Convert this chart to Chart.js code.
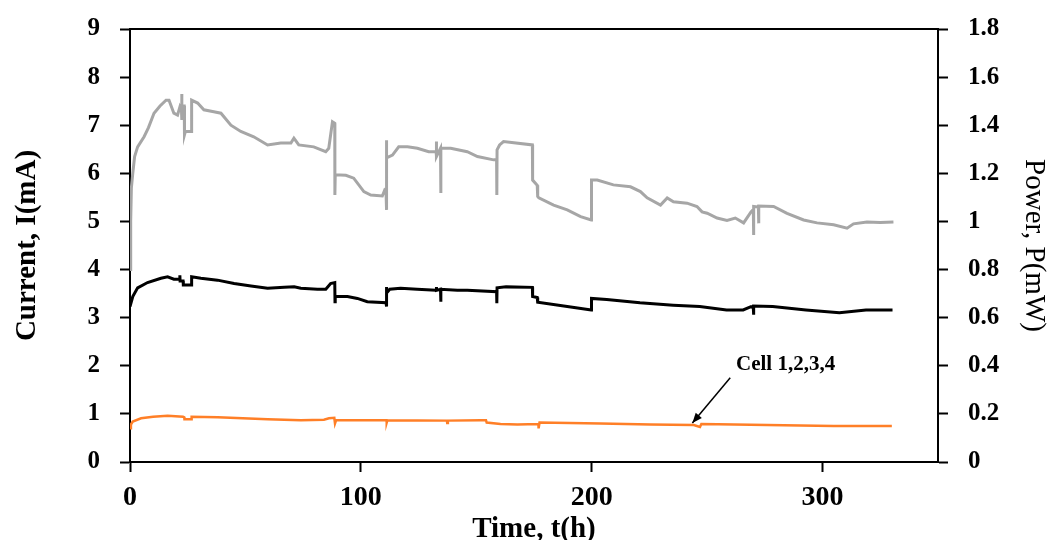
<!DOCTYPE html>
<html>
<head>
<meta charset="utf-8">
<script src="https://cdn.jsdelivr.net/npm/chart.js@4/dist/chart.umd.min.js"></script>
<style>
  html, body { margin: 0; padding: 0; background: #fff; }
  #wrap { width: 1052px; height: 540px; }
</style>
</head>
<body>
<div id="wrap"><canvas id="c" width="1052" height="540"></canvas></div>
<script>
// ---- data (time in hours, values on the left scale) ----
const grayTime = [0,0.3,0.6,1.2,2,3.3,6.1,8,10.4,13,15.6,16.9,19,20.6,21.6,22.3,22.4,22.5,23.0,23.5,23.6,24,26.6,26.7,29.3,32,36.3,39.4,43.7,48,53.6,59.6,65.3,69.7,71,73.1,79.6,84.8,86.1,87.7,88.7,88.75,88.9,93.5,96.9,101.3,104.3,109.3,110.3,110.9,111.0,111.1,111.3,113.7,116.4,120.2,124.5,129.4,132.6,132.7,132.8,134.5,134.6,134.7,138.9,146.1,150.5,157.5,158.8,158.9,159.0,160.1,161.8,174.3,174.4,176.4,176.6,177.1,183.5,189.4,195.2,199.8,199.9,202.4,209.4,216.8,221.1,224,229.8,232.7,235.4,241.3,245.6,247.8,250,254.3,258.6,262.2,265.8,269.0,270.0,270.1,270.2,272.2,272.3,272.4,278.8,284.6,291.8,297.6,304.8,310.6,313.4,319.2,325,330.7];
const grayValue = [4.0,5.0,5.7,6.0,6.35,6.55,6.76,6.95,7.25,7.4,7.52,7.52,7.25,7.21,7.38,7.3,7.65,7.11,7.40,7.40,6.8,6.87,6.87,7.52,7.46,7.32,7.28,7.25,7.0,6.87,6.76,6.59,6.63,6.63,6.73,6.59,6.55,6.45,6.52,7.07,7.04,5.55,5.97,5.96,5.9,5.62,5.55,5.53,5.65,5.62,6.69,5.24,6.32,6.38,6.55,6.55,6.52,6.45,6.45,6.66,6.35,6.52,5.59,6.52,6.52,6.45,6.35,6.28,6.28,5.55,6.49,6.59,6.66,6.59,5.86,5.75,5.52,5.49,5.34,5.24,5.10,5.03,5.86,5.86,5.76,5.72,5.62,5.49,5.34,5.49,5.41,5.38,5.31,5.20,5.17,5.07,5.02,5.07,4.97,5.20,5.25,4.72,5.31,5.30,4.96,5.32,5.31,5.17,5.03,4.97,4.93,4.86,4.95,4.99,4.98,4.99];

const blackTime = [0,1.2,3.3,7.6,13.4,16.3,19,21.5,21.6,21.7,23.0,23.1,26.6,26.7,30.7,37.9,45.1,52.4,59.6,66.8,71.1,74,81.2,84.8,86.9,88.7,88.8,88.9,94.2,98.5,102.8,110.9,111.0,111.1,111.3,112.5,117.2,124.4,132.6,132.7,132.8,134.5,134.6,134.7,141.8,146.1,158.8,158.9,159.0,162.9,174.3,174.4,176.4,176.6,189.4,199.8,199.9,206.5,220.9,235.3,246.8,258.4,265.6,269.0,270.0,270.1,270.2,278.4,292.8,307.3,318.8,330.3];
const blackValue = [3.23,3.44,3.62,3.73,3.82,3.85,3.80,3.80,3.88,3.76,3.76,3.68,3.68,3.85,3.82,3.78,3.71,3.66,3.61,3.63,3.64,3.61,3.59,3.59,3.71,3.73,3.33,3.44,3.44,3.40,3.33,3.31,3.64,3.23,3.51,3.59,3.61,3.59,3.57,3.64,3.57,3.59,3.33,3.59,3.57,3.57,3.54,3.30,3.62,3.64,3.63,3.44,3.42,3.32,3.23,3.16,3.40,3.38,3.31,3.26,3.23,3.16,3.16,3.23,3.20,3.06,3.24,3.23,3.16,3.10,3.16,3.16];

const orangeTime = [0,0.4,1.2,4.8,10,16.3,23,23.5,23.6,26.6,26.7,38,59.6,74,84,86.2,88.5,88.8,89.3,91.3,111.1,111.2,111.5,137.3,137.4,137.7,151.9,154.2,154.5,160.5,167.8,176.9,177.0,177.4,203.8,225.4,244.2,246.9,247.5,276,304.8,330];
const orangeValue = [0.70,0.78,0.84,0.91,0.94,0.96,0.94,0.93,0.89,0.89,0.94,0.93,0.89,0.87,0.88,0.91,0.92,0.80,0.87,0.87,0.87,0.82,0.87,0.86,0.81,0.86,0.87,0.87,0.82,0.79,0.78,0.79,0.70,0.82,0.80,0.78,0.77,0.73,0.79,0.77,0.75,0.75];

const xTicks = [0, 100, 200, 300];
const leftTicks = [0,1,2,3,4,5,6,7,8,9];
const rightTickLabels = ['0','0.2','0.4','0.6','0.8','1','1.2','1.4','1.6','1.8'];
const annotationText = 'Cell 1,2,3,4';

function pairs(t, v) { return t.map((x, i) => ({ x: x, y: v[i] })); }

const SERIF = "'Liberation Serif', 'Times New Roman', serif";

// annotation positions (data coordinates on x / left axis)
const arrowFrom = { x: 260, y: 1.75 };
const arrowTo = { x: 243.6, y: 0.81 };
const labelAt = { x: 262.5, y: 1.92 };

const framePlugin = {
  id: 'frame',
  afterDatasetsDraw(chart) {
    const { ctx, chartArea, scales } = chart;
    ctx.save();
    ctx.strokeStyle = '#000';
    ctx.lineWidth = 2;
    ctx.beginPath();
    ctx.moveTo(chartArea.left - 1, chartArea.top);
    ctx.lineTo(chartArea.right + 1, chartArea.top);
    ctx.stroke();
    const x1 = scales.x.getPixelForValue(arrowFrom.x), y1 = scales.y.getPixelForValue(arrowFrom.y);
    const x2 = scales.x.getPixelForValue(arrowTo.x), y2 = scales.y.getPixelForValue(arrowTo.y);
    ctx.lineWidth = 1.5;
    ctx.beginPath();
    ctx.moveTo(x1, y1);
    ctx.lineTo(x2, y2);
    ctx.stroke();
    const ang = Math.atan2(y2 - y1, x2 - x1);
    const L = 10, W = 4;
    ctx.fillStyle = '#000';
    ctx.beginPath();
    ctx.moveTo(x2, y2);
    ctx.lineTo(x2 - L * Math.cos(ang) + W * Math.sin(ang), y2 - L * Math.sin(ang) - W * Math.cos(ang));
    ctx.lineTo(x2 - L * Math.cos(ang) - W * Math.sin(ang), y2 - L * Math.sin(ang) + W * Math.cos(ang));
    ctx.closePath();
    ctx.fill();
    ctx.font = 'bold 21px ' + SERIF;
    ctx.textAlign = 'left';
    ctx.textBaseline = 'alphabetic';
    ctx.fillText(annotationText, scales.x.getPixelForValue(labelAt.x), scales.y.getPixelForValue(labelAt.y));
    ctx.restore();
  }
};

const axisCommon = {
  grid: { display: true, drawOnChartArea: false, drawTicks: true, tickLength: 10, tickWidth: 2, tickColor: '#000' },
  border: { display: true, color: '#000', width: 2 }
};

function fitVertical(width) {
  return (s) => { s.width = width; s.paddingTop = 0; s.paddingBottom = 0; };
}

new Chart(document.getElementById('c'), {
  type: 'line',
  data: {
    datasets: [
      { label: 'gray', data: pairs(grayTime, grayValue), borderColor: '#a6a6a6', borderWidth: 3, pointRadius: 0, tension: 0, yAxisID: 'y' },
      { label: 'black', data: pairs(blackTime, blackValue), borderColor: '#000000', borderWidth: 3, pointRadius: 0, tension: 0, yAxisID: 'y' },
      { label: 'orange', data: pairs(orangeTime, orangeValue), borderColor: '#ff7f27', borderWidth: 2.5, pointRadius: 0, tension: 0, yAxisID: 'y' }
    ]
  },
  options: {
    responsive: false,
    animation: false,
    events: [],
    layout: { padding: { top: 29, left: 0, right: 0, bottom: 0 } },
    plugins: { legend: { display: false }, tooltip: { enabled: false } },
    scales: {
      x: {
        type: 'linear', position: 'bottom', min: 0, max: 350,
        ...axisCommon,
        afterBuildTicks: (s) => { s.ticks = xTicks.map(v => ({ value: v })); },
        ticks: { color: '#000', padding: 9, maxRotation: 0, font: { family: SERIF, weight: 'bold', size: 28 } },
        title: { display: true, text: 'Time, t(h)', color: '#000', padding: 0, font: { family: SERIF, weight: 'bold', size: 29, lineHeight: 0.7 } },
        afterFit: (s) => { s.height = 78; s.paddingLeft = 0; s.paddingRight = 0; }
      },
      y: {
        type: 'linear', position: 'left', min: 0, max: 9,
        ...axisCommon,
        afterBuildTicks: (s) => { s.ticks = leftTicks.map(v => ({ value: v })); },
        ticks: { color: '#000', padding: 20, font: { family: SERIF, weight: 'bold', size: 25 } },
        title: { display: true, text: 'Current, I(mA)', color: '#000', padding: { top: 13, bottom: 0 }, font: { family: SERIF, weight: 'bold', size: 29, lineHeight: 1 } },
        afterFit: fitVertical(130)
      },
      y1: {
        type: 'linear', position: 'right', min: 0, max: 1.8,
        ...axisCommon,
        afterBuildTicks: (s) => { s.ticks = rightTickLabels.map(t => ({ value: parseFloat(t) })); },
        ticks: { color: '#000', padding: 20, font: { family: SERIF, weight: 'bold', size: 25 },
                 callback: (v, i) => rightTickLabels[i] },
        title: { display: true, text: 'Power, P(mW)', color: '#000', padding: { top: 4, bottom: 0 }, font: { family: SERIF, weight: 'normal', size: 29, lineHeight: 1 } },
        afterFit: fitVertical(114)
      }
    }
  },
  plugins: [framePlugin]
});
</script>
</body>
</html>
